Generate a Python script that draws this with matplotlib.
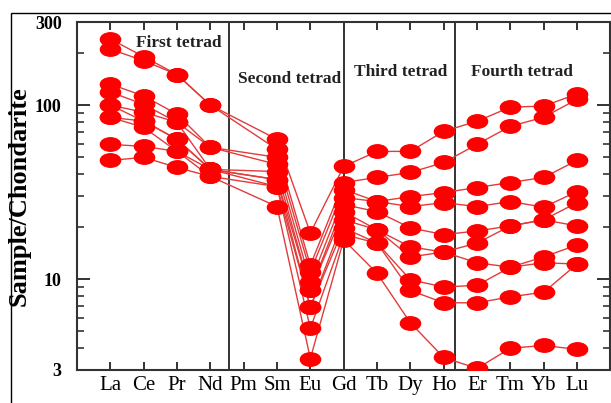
import matplotlib

matplotlib.use("Agg")
import matplotlib.pyplot as plt
from matplotlib.markers import MarkerStyle
from matplotlib.patches import Rectangle
from matplotlib.ticker import FixedLocator, NullFormatter
from matplotlib.transforms import Affine2D

# chondrite-normalised REE, Pm not analysed
ELEMENTS = ["La", "Ce", "Pr", "Nd", "Pm", "Sm", "Eu", "Gd",
            "Tb", "Dy", "Ho", "Er", "Tm", "Yb", "Lu"]
MEASURED = ["La", "Ce", "Pr", "Nd", "Sm", "Eu", "Gd",
            "Tb", "Dy", "Ho", "Er", "Tm", "Yb", "Lu"]

s1 = [240, 190, 150, 100, 63.6, 18.4, 44.4, 54.2, 54.2, 70.7, 80.8, 97.4, 98.7, 116]
s2 = [210, 180, 150, 100, 55.7, 12.0, 35.9, 38.4, 41.0, 46.8, 59.5, 75.6, 85.2, 108]
s3 = [132, 113, 88.7, 57.2, 50.1, 11.0, 32.7, 27.9, 29.8, 31.4, 33.6, 35.9, 38.4, 48.1]
s4 = [119, 101, 79.7, 57.2, 45.6, 9.6, 29.4, 27.9, 26.1, 27.5, 26.1, 27.9, 25.9, 31.8]
s5 = [100, 91, 79.7, 42.7, 41.5, 8.6, 26.8, 24.4, 19.7, 18.0, 18.9, 20.2, 21.9, 27.5]
s6 = [100, 81, 63.6, 42.7, 37.3, 8.6, 24.4, 19.2, 15.3, 14.3, 16.1, 20.2, 21.9, 20.2]
s7 = [85, 74.6, 54.2, 38.9, 34.0, 6.9, 21.9, 19.2, 13.4, 14.3, 12.4, 11.7, 13.4, 15.7]
s8 = [85, 81, 63.6, 42.7, 37.3, 6.9, 19.7, 16.1, 9.9, 9.0, 9.2, 11.7, 12.4, 12.2]
s9 = [59.5, 57.9, 54.2, 42.7, 34.0, 5.2, 18.0, 16.1, 8.6, 7.3, 7.3, 7.9, 8.4, 12.2]
s10 = [48.1, 50.1, 43.8, 38.9, 26.1, 3.49, 16.8, 10.8, 5.6, 3.54, 3.06, 4.0, 4.15, 3.94]
SAMPLES = [s1, s2, s3, s4, s5, s6, s7, s8, s9, s10]

TETRADS = ["First tetrad", "Second tetrad", "Third tetrad", "Fourth tetrad"]

SERIF = "Liberation Serif"

fig = plt.figure(figsize=(6.11, 4.03), dpi=100)
ax = fig.add_axes([0.126, 0.082, 0.873, 0.863])

# outer frame of the original figure
fig.patches.append(Rectangle((11 / 611, -0.1), 1.2, 1 - 13 / 403 + 0.1,
                             transform=fig.transFigure, fill=False,
                             edgecolor="black", linewidth=1.0))

xpos = [ELEMENTS.index(e) + 1 for e in MEASURED]
ellipse = MarkerStyle("o", transform=Affine2D().scale(1.5, 1.0))

for s in SAMPLES:
    ax.plot(xpos, s, color="#e23b3b", lw=1.0, zorder=2)
    ax.plot(xpos, s, ls="none", marker=ellipse, ms=9.7, color="#ff0000",
            mec="#ff0000", zorder=3)

for xv in (4.55, 8.0, 11.35):
    ax.axvline(xv, color="#333333", lw=1.4, zorder=1)

ax.set_yscale("log")
ax.set_ylim(3, 300)
ax.set_xlim(0, 16)

ax.set_xticks(range(1, len(ELEMENTS) + 1))
ax.set_xticklabels(ELEMENTS, fontsize=15, family=SERIF)
ax.tick_params(axis="x", direction="in", top=True, length=6, width=1.4,
               color="#333333", pad=4)

ax.yaxis.set_major_locator(FixedLocator([3, 10, 100, 300]))
ax.set_yticklabels(["3", "10", "100", "300"])
ax.yaxis.set_minor_locator(FixedLocator([4, 5, 6, 7, 8, 9, 20, 30, 40, 50,
                                         60, 70, 80, 90, 200]))
ax.yaxis.set_minor_formatter(NullFormatter())
ax.tick_params(axis="y", which="major", direction="in", right=True,
               length=9.5, width=1.4, color="#333333", pad=11)
ax.tick_params(axis="y", which="minor", direction="in", right=True,
               length=5, width=1.2, color="#333333")
for lbl in ax.get_yticklabels():
    lbl.set_fontfamily(SERIF)
    lbl.set_fontweight("bold")
    lbl.set_fontsize(13)

ax.set_ylabel("Sample/Chondarite", fontsize=19, fontweight="bold",
              family=SERIF, labelpad=3)

for sp in ax.spines.values():
    sp.set_linewidth(1.5)
    sp.set_color("#333333")

tkw = dict(fontsize=12.5, fontweight="bold", family=SERIF, ha="center",
           va="center", color="#222222")
ax.text(3.05, 228, TETRADS[0], **tkw)
ax.text(6.37, 141, TETRADS[1], **tkw)
ax.text(9.72, 155, TETRADS[2], **tkw)
ax.text(13.34, 155, TETRADS[3], **tkw)

fig.savefig("out.png", dpi=100)
